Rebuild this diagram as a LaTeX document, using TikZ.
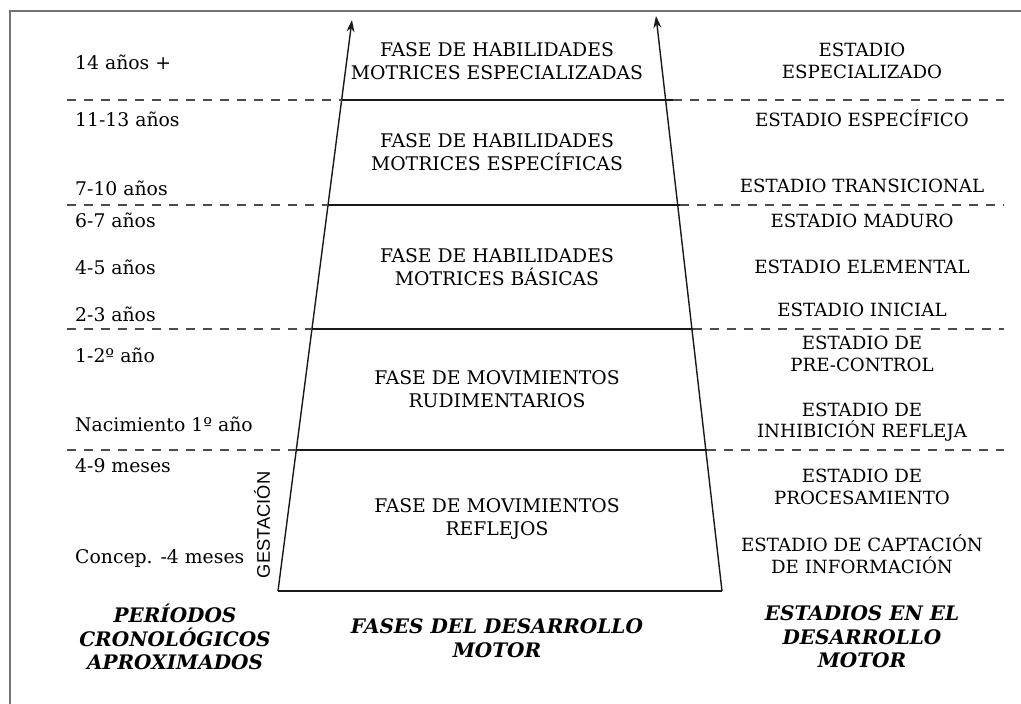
\documentclass[tikz,border=0pt]{standalone}
\usepackage{fontspec}
\setmainfont{DejaVu Serif}
\newfontfamily\gestfont{Liberation Sans}
\usetikzlibrary{arrows.meta,calc}
\begin{document}
\begin{tikzpicture}[x=1pt,y=-1pt,
  frame/.style={draw=black!55,line width=1.4pt},
  mainline/.style={draw=black!90,line width=1.4pt},
  dashline/.style={draw=black!70,line width=1.3pt,dash pattern=on 9pt off 8pt},
  agetxt/.style={anchor=west,inner sep=0pt,font=\fontsize{18.8}{22}\selectfont,text=black},
  fasetxt/.style={align=center,inner sep=0pt,font=\fontsize{18.8}{22.5}\selectfont,text=black},
  esttxt/.style={align=center,inner sep=0pt,font=\fontsize{18.2}{21.5}\selectfont,text=black},
  headtxt/.style={align=center,inner sep=0pt,font=\fontsize{20}{23.5}\selectfont\bfseries\itshape}]
\useasboundingbox (0,0) rectangle (1021,704);
% frame (top and left edges)
\draw[frame] (10,704) -- (10,11) -- (1021,11);
% trapezoid sides
\coordinate (bl) at (278,591);
\coordinate (tl) at (352,20);
\coordinate (br) at (722,591);
\coordinate (tr) at (656,16);
\draw[mainline,-{Stealth[length=12pt,width=8pt]}] (bl) -- (tl);
\draw[mainline,-{Stealth[length=12pt,width=8pt]}] (br) -- (tr);
\draw[mainline] (bl) -- (br);
% horizontal levels
\foreach \yy/\xl/\xr in {100/342/673, 205/328/680, 329/312/693, 450/296/707}{
  \draw[mainline] (\xl,\yy) -- (\xr,\yy);
  \draw[dashline] (67,\yy) -- (\xl,\yy);
  \draw[dashline] (\xr,\yy) -- (1004,\yy);
}
% left column
\node[agetxt] (a1) at (75,62) {14 años +};
\node[agetxt] (a2) at (75,119) {11-13 años};
\node[agetxt] (a3) at (75,188) {7-10 años};
\node[agetxt] (a4) at (75,220) {6-7 años};
\node[agetxt] (a5) at (75,267) {4-5 años};
\node[agetxt] (a6) at (75,314) {2-3 años};
\node[agetxt] (a7) at (75,355) {1-2º año};
\node[agetxt] (a8) at (75,424) {Nacimiento 1º año};
\node[agetxt] (a9) at (75,466) {4-9 meses};
\node[agetxt] (a10) at (75,558) {Concep. -4 meses};
\node[rotate=90,inner sep=0pt,font=\gestfont\fontsize{18.3}{20}\selectfont,text=black] (gest) at (262,525) {GESTACIÓN};
% center column
\node[fasetxt] (f1) at (497,61) {FASE DE HABILIDADES\\MOTRICES ESPECIALIZADAS};
\node[fasetxt] (f2) at (497,152) {FASE DE HABILIDADES\\MOTRICES ESPECÍFICAS};
\node[fasetxt] (f3) at (497,267) {FASE DE HABILIDADES\\MOTRICES BÁSICAS};
\node[fasetxt] (f4) at (497,389) {FASE DE MOVIMIENTOS\\RUDIMENTARIOS};
\node[fasetxt] (f5) at (497,519) {FASE DE MOVIMIENTOS\\REFLEJOS};
% right column
\node[esttxt] (e1) at (862,61) {ESTADIO\\ESPECIALIZADO};
\node[esttxt] (e2) at (862,118) {ESTADIO ESPECÍFICO};
\node[esttxt] (e3) at (862,186) {ESTADIO TRANSICIONAL};
\node[esttxt] (e4) at (862,221) {ESTADIO MADURO};
\node[esttxt] (e5) at (862,267) {ESTADIO ELEMENTAL};
\node[esttxt] (e6) at (862,310) {ESTADIO INICIAL};
\node[esttxt] (e7) at (862,354) {ESTADIO DE\\PRE-CONTROL};
\node[esttxt] (e8) at (862,422) {ESTADIO DE\\INHIBICIÓN REFLEJA};
\node[esttxt] (e9) at (862,487) {ESTADIO DE\\PROCESAMIENTO};
\node[esttxt] (e10) at (862,554) {ESTADIO DE CAPTACIÓN\\DE INFORMACIÓN};
% headings
\node[headtxt] (h1) at (175,637) {PERÍODOS\\CRONOLÓGICOS\\APROXIMADOS};
\node[headtxt] (h2) at (497,638) {FASES DEL DESARROLLO\\MOTOR};
\node[headtxt] (h3) at (862,637) {ESTADIOS EN EL\\DESARROLLO\\MOTOR};
\end{tikzpicture}
\end{document}
